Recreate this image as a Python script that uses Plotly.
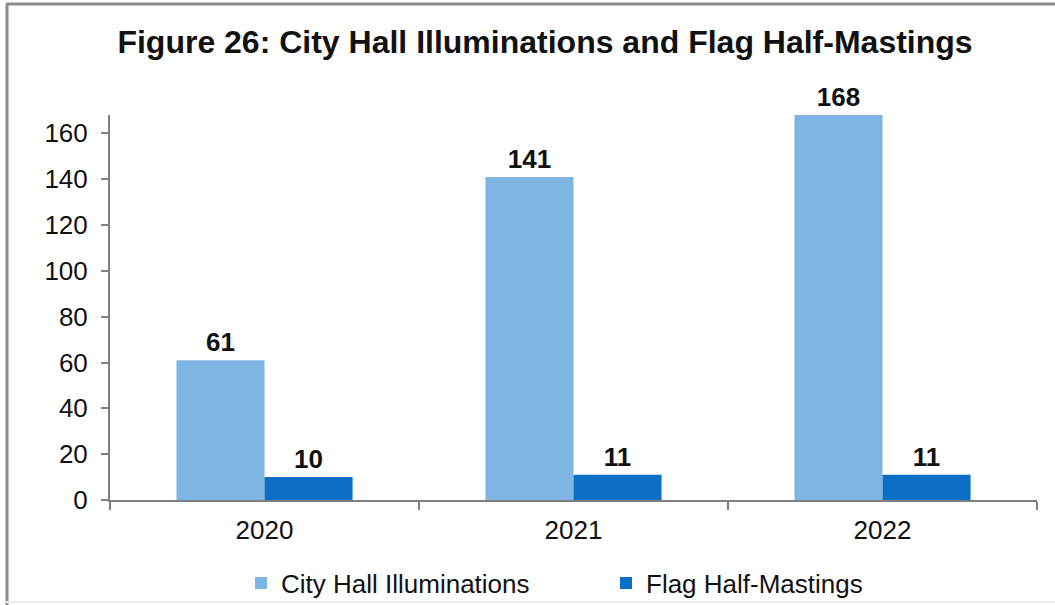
import plotly.graph_objects as go

# Annual counts
years = ["2020", "2021", "2022"]
illuminations = [61, 141, 168]
half_mastings = [10, 11, 11]
y_ticks = [0, 20, 40, 60, 80, 100, 120, 140, 160]

W, H = 1055, 605
L, R, T, B = 110, 18, 115, 105
FONT = "Liberation Sans, Arial, sans-serif"
INK = "#111111"

label_font = dict(family=FONT, size=26, color=INK, weight="bold")

fig = go.Figure()
fig.add_trace(go.Bar(
    name="City Hall Illuminations", x=years, y=illuminations,
    marker=dict(color="#7FB5E2", line=dict(width=0)),
    text=[str(v) for v in illuminations], textposition="outside",
    textfont=label_font, cliponaxis=False,
))
fig.add_trace(go.Bar(
    name="Flag Half-Mastings", x=years, y=half_mastings,
    marker=dict(color="#0B6FC6", line=dict(width=0)),
    text=[str(v) for v in half_mastings], textposition="outside",
    textfont=label_font, cliponaxis=False,
))

pw = W - L - R
ph = H - T - B

def px_x(p):
    return (p - L) / pw

def px_y(p):
    return (H - B - p) / ph

frame = "#8C8C8C"

fig.update_layout(
    width=W, height=H,
    margin=dict(l=L, r=R, t=T, b=B, autoexpand=False),
    paper_bgcolor="white", plot_bgcolor="white",
    barmode="group", bargap=0.43, bargroupgap=0,
    font=dict(family=FONT, size=26, color=INK),
    title=dict(
        text="<b>Figure 26: City Hall Illuminations and Flag Half-Mastings</b>",
        x=px_x(545), xanchor="center", xref="paper",
        y=1 - 42 / H, yanchor="middle",
        font=dict(family=FONT, size=32, color=INK),
    ),
    xaxis=dict(
        showline=True, linecolor="#808080", linewidth=2,
        ticks="outside", tickson="boundaries", ticklen=8, tickwidth=2,
        tickcolor="#808080", showgrid=False, zeroline=False,
        ticklabelstandoff=6,
        tickfont=dict(size=26, color=INK),
    ),
    yaxis=dict(
        range=[0, 168], tickvals=y_ticks,
        showline=True, linecolor="#808080", linewidth=2,
        ticks="outside", ticklen=7, tickwidth=2, tickcolor="#808080",
        showgrid=False, zeroline=False,
        ticklabelstandoff=8,
        tickfont=dict(size=26, color=INK),
    ),
    legend=dict(
        orientation="h", x=px_x(241), xanchor="left",
        y=px_y(583), yanchor="middle",
        font=dict(size=26, color=INK),
        bgcolor="rgba(0,0,0,0)",
        itemwidth=30, entrywidth=320, entrywidthmode="pixels",
        traceorder="normal",
    ),
    shapes=[
        # frame: left and top edges
        dict(type="line", xref="paper", yref="paper",
             x0=px_x(7), x1=px_x(7), y0=px_y(605), y1=px_y(4),
             line=dict(color=frame, width=3), layer="below"),
        dict(type="line", xref="paper", yref="paper",
             x0=px_x(6), x1=px_x(1060), y0=px_y(4), y1=px_y(4),
             line=dict(color=frame, width=3), layer="below"),
        # faint bottom edge
        dict(type="line", xref="paper", yref="paper",
             x0=px_x(6), x1=px_x(1060), y0=px_y(602), y1=px_y(602),
             line=dict(color="#EEEEEE", width=2), layer="below"),
    ],
)

fig.write_html("out.html")
